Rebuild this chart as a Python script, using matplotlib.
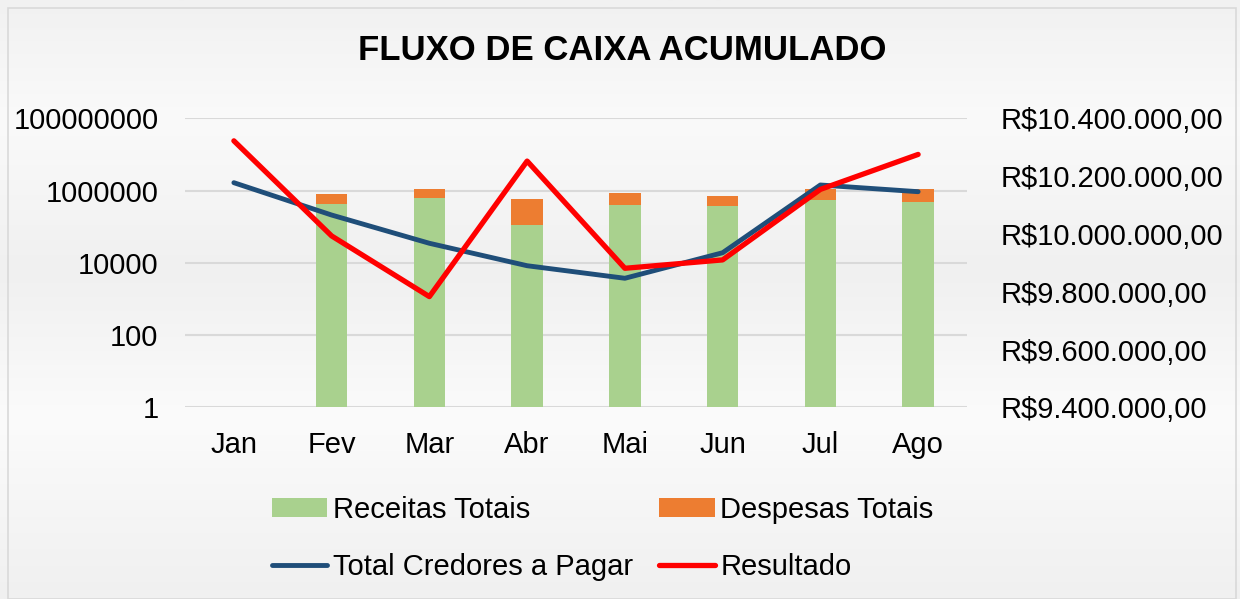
import numpy as np
import matplotlib
matplotlib.use("Agg")
import matplotlib.pyplot as plt
from matplotlib.colors import LinearSegmentedColormap
from matplotlib.patches import Rectangle
from matplotlib.ticker import FixedLocator, FuncFormatter

plt.rcParams['font.family'] = ['Liberation Sans', 'DejaVu Sans']

# dados
meses = ['Jan', 'Fev', 'Mar', 'Abr', 'Mai', 'Jun', 'Jul', 'Ago']
receitas = [0, 432000, 622000, 109000, 405000, 373000, 558000, 491000]
despesas = [0, 355000, 462000, 464000, 434000, 347000, 526000, 593000]
credores = [1650000, 210000, 34700, 8300, 3730, 19000, 1425000, 930000]
resultado = [10322000, 9993000, 9783000, 10252000, 9881000, 9910000, 10154000, 10275000]

fig = plt.figure(figsize=(12.4, 5.99), dpi=100)

# fundo em degrade
bg = fig.add_axes([0, 0, 1, 1], zorder=-10)
cmap = LinearSegmentedColormap.from_list('bg', [(0, '#f1f1f1'), (0.2, '#fafafa'), (0.45, '#f0f0f0'),
                                                 (0.7, '#fbfbfb'), (1, '#f0f0f0')])
bg.imshow(np.linspace(0, 1, 256).reshape(-1, 1), aspect='auto', cmap=cmap, extent=[0, 1, 0, 1])
bg.add_patch(Rectangle((8 / 1240, 0), 1228 / 1240, 1 - 8 / 599, fill=False, edgecolor='#d9d9d9', lw=1.2))
bg.set_xlim(0, 1)
bg.set_ylim(0, 1)
bg.axis('off')

ax = fig.add_axes([185 / 1240, 1 - 407.3 / 599, 782 / 1240, 289 / 599])
ax.patch.set_visible(False)
x = np.arange(len(meses))

ax.set_yscale('log')
ax.set_ylim(1, 1e8)
ax.set_xlim(-0.5, len(meses) - 0.5)
ax.yaxis.set_major_locator(FixedLocator([1, 100, 1e4, 1e6, 1e8]))
ax.yaxis.set_minor_locator(FixedLocator([]))
ax.yaxis.set_major_formatter(FuncFormatter(lambda v, p: '%d' % round(v)))
ax.grid(axis='y', color='#d9d9d9', lw=1.5)
ax.set_axisbelow(True)

b1 = ax.bar(x, receitas, width=0.32, color='#a9d18e', label='Receitas Totais', zorder=2)
b2 = ax.bar(x, despesas, width=0.32, bottom=receitas, color='#ed7d31', label='Despesas Totais', zorder=2)
l1, = ax.plot(x, credores, color='#1f4e79', lw=3.5, solid_capstyle='round', label='Total Credores a Pagar', zorder=3)

ax.set_xticks(x)
ax.set_xticklabels(meses)
ax.tick_params(axis='both', length=0, labelsize=21, colors='#000000')
ax.tick_params(axis='x', pad=17)
ax.tick_params(axis='y', pad=19)
for s in ax.spines.values():
    s.set_visible(False)

ax2 = ax.twinx()
ax2.patch.set_visible(False)
l2, = ax2.plot(x, resultado, color='#ff0000', lw=3.8, solid_capstyle='round', label='Resultado', zorder=4)
ax2.set_ylim(9.4e6, 10.4e6)
ax2.set_yticks(np.arange(9.4e6, 10.41e6, 2e5))
ax2.yaxis.set_major_formatter(FuncFormatter(
    lambda v, p: 'R$' + '{:,.2f}'.format(v).replace(',', 'X').replace('.', ',').replace('X', '.')))
ax2.tick_params(axis='y', length=0, labelsize=21, pad=24)
for s in ax2.spines.values():
    s.set_visible(False)

fig.text(0.502, 0.915, 'FLUXO DE CAIXA ACUMULADO', ha='center', va='center',
         fontsize=25, fontweight='bold')

# ordem por colunas para ler em linhas
fig.legend([b1, l1, b2, l2], ['Receitas Totais', 'Total Credores a Pagar', 'Despesas Totais', 'Resultado'],
           loc='center', bbox_to_anchor=(0.486, 0.101), ncol=2, frameon=False, fontsize=21,
           handlelength=1.9, handleheight=0.6, handletextpad=0.2, columnspacing=0.9, labelspacing=1.0)

fig.savefig('out.png', dpi=100)
